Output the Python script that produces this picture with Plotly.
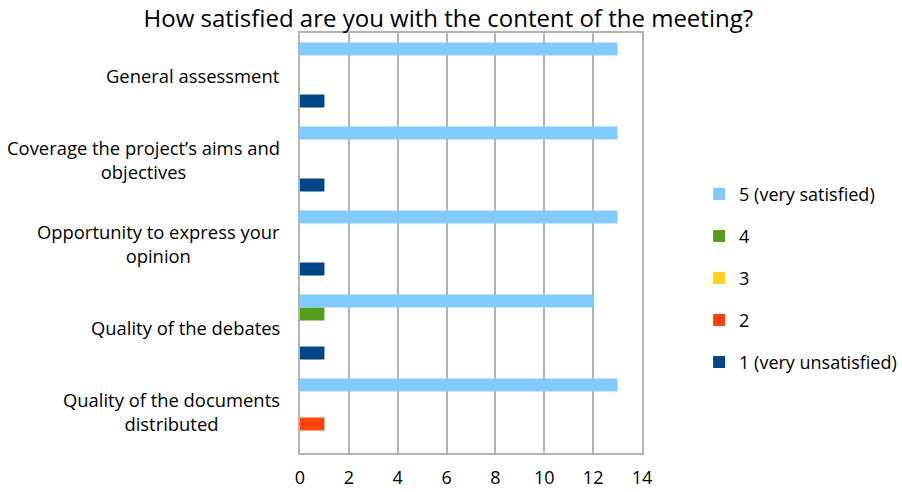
import plotly.graph_objects as go

# Survey question and answer data
categories = [
    "General assessment",
    "Coverage the project\u2019s aims and<br>objectives",
    "Opportunity to express your<br>opinion",
    "Quality of the debates",
    "Quality of the documents<br>distributed",
]
series_names = ["1 (very unsatisfied)", "2", "3", "4", "5 (very satisfied)"]
series_colors = ["#004586", "#FF420E", "#FFD320", "#579D1C", "#83CAFF"]
values_1 = [1, 1, 1, 1, 0]
values_2 = [0, 0, 0, 0, 1]
values_3 = [0, 0, 0, 0, 0]
values_4 = [0, 0, 0, 1, 0]
values_5 = [13, 13, 13, 12, 13]
x_ticks = [0, 2, 4, 6, 8, 10, 12, 14]

all_values = [values_1, values_2, values_3, values_4, values_5]

FONT = "Open Sans, sans-serif"

fig = go.Figure()
n = len(series_names)
for i, (name, color, vals) in enumerate(zip(series_names, series_colors, all_values)):
    fig.add_trace(go.Bar(
        y=categories, x=vals, name=name, orientation="h",
        marker=dict(color=color, line=dict(width=0)),
        legendgroup=name, legendrank=n - i,
    ))

# Category labels drawn as centred multi-line text left of the plot area
for cat in categories:
    fig.add_annotation(
        x=0, xref="paper", xanchor="right", xshift=-18,
        y=cat, yref="y", yanchor="middle",
        text=cat, showarrow=False, align="center",
        font=dict(family=FONT, size=18.4, color="#000000"),
    )

fig.update_layout(
    width=902, height=492,
    margin=dict(l=300, r=260, t=33, b=39, autoexpand=False),
    paper_bgcolor="white", plot_bgcolor="white",
    barmode="group", bargap=0.226, bargroupgap=0,
    title=dict(
        text="How satisfied are you with the content of the meeting?",
        x=0.497, xanchor="center", y=0.963, yanchor="middle",
        font=dict(family=FONT, size=24, color="#000000"),
    ),
    font=dict(family=FONT, size=18, color="#000000"),
    legend=dict(
        x=1.167, xanchor="left", y=0.66, yanchor="top",
        traceorder="grouped", tracegroupgap=15.6,
        font=dict(family=FONT, size=18, color="#000000"),
        itemwidth=30,
    ),
    xaxis=dict(
        range=[0, 14], tickvals=x_ticks, ticktext=[str(t) for t in x_ticks],
        showgrid=True, gridcolor="#b3b3b3", gridwidth=1.5,
        showline=True, linecolor="#b3b3b3", linewidth=1.5, mirror=True,
        zeroline=False, ticks="", ticklabelstandoff=8, automargin=False,
        tickfont=dict(family=FONT, size=18, color="#000000"),
        fixedrange=True,
    ),
    yaxis=dict(
        type="category", categoryorder="array",
        categoryarray=categories[::-1],
        showticklabels=False, showgrid=False, automargin=False,
        showline=True, linecolor="#b3b3b3", linewidth=1.5, mirror=True,
        ticks="", fixedrange=True,
    ),
)

fig.write_html("out.html")
